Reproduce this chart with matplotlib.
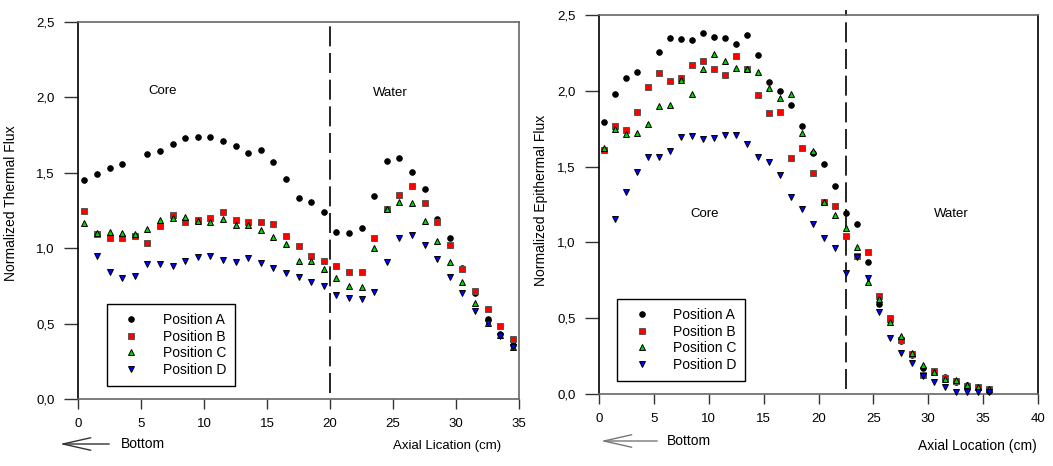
import numpy as np
import matplotlib
matplotlib.use("Agg")
import matplotlib.pyplot as plt
from matplotlib.ticker import FuncFormatter

plt.rcParams["font.family"] = ["Liberation Sans", "DejaVu Sans"]
plt.rcParams["font.size"] = 9.5

# ── Thermal flux (left panel), x = 0.5 .. 34.5 cm ───────────────────────
x_thermal = np.arange(0.5, 35.0, 1.0)
th_a = [1.450, 1.492, 1.534, 1.556, np.nan, 1.627, 1.645, 1.693, 1.731, 1.739,
        1.739, 1.711, 1.680, 1.633, 1.649, 1.574, 1.459, 1.336, 1.304, 1.240,
        1.105, 1.101, 1.136, 1.348, 1.578, 1.598, 1.507, 1.395, 1.192, 1.070,
        0.870, 0.700, 0.530, 0.430, 0.360]
th_b = [1.249, 1.094, 1.066, 1.070, 1.083, 1.032, 1.149, 1.220, 1.174, 1.185,
        1.198, 1.238, 1.189, 1.174, 1.176, 1.158, 1.083, 1.015, 0.946, 0.913,
        0.885, 0.842, 0.842, 1.070, 1.258, 1.355, 1.415, 1.298, 1.176, 1.019,
        0.862, 0.714, 0.595, 0.486, 0.398]
th_c = [1.167, 1.100, 1.105, 1.101, 1.094, 1.127, 1.185, 1.200, 1.207, 1.178,
        1.174, 1.196, 1.154, 1.152, 1.119, 1.074, 1.030, 0.913, 0.913, 0.864,
        0.804, 0.747, 0.743, 0.999, 1.258, 1.304, 1.302, 1.178, 1.048, 0.906,
        0.774, 0.635, 0.506, 0.422, 0.347]
th_d = [np.nan, 0.948, 0.844, 0.802, 0.818, 0.895, 0.895, 0.882, 0.917, 0.944,
        0.950, 0.920, 0.906, 0.935, 0.900, 0.867, 0.836, 0.811, 0.778, 0.751,
        0.689, 0.670, 0.663, 0.712, 0.906, 1.066, 1.086, 1.021, 0.930, 0.807,
        0.705, 0.586, 0.506, 0.418, 0.343]

# ── Epithermal flux (right panel), x = 0.5 .. 35.5 cm ───────────────────
x_epi = np.arange(0.5, 36.0, 1.0)
ep_a = [1.792, 1.979, 2.086, 2.122, np.nan, 2.254, 2.350, 2.342, 2.335, 2.383,
        2.353, 2.350, 2.311, 2.370, 2.236, 2.056, 1.997, 1.906, 1.766, 1.592,
        1.515, 1.372, 1.196, 1.119, 0.869, 0.594, 0.480, 0.352, 0.260, 0.170,
        0.154, 0.110, 0.080, 0.060, 0.040, 0.020]
ep_b = [1.607, 1.768, 1.743, 1.860, 2.023, 2.119, 2.062, 2.086, 2.168, 2.197,
        2.144, 2.106, 2.232, 2.144, 1.974, 1.856, 1.862, 1.559, 1.623, 1.456,
        1.265, 1.238, 1.042, 0.908, 0.939, 0.649, 0.499, 0.356, 0.266, 0.125,
        0.154, 0.108, 0.088, 0.053, 0.048, 0.031]
ep_c = [1.625, 1.750, 1.717, 1.724, 1.781, 1.900, 1.906, 2.073, 1.979, 2.144,
        2.241, 2.197, 2.150, 2.144, 2.124, 2.017, 1.953, 1.979, 1.724, 1.605,
        1.265, 1.183, 1.097, 0.968, 0.739, 0.629, 0.475, 0.383, 0.273, 0.191,
        0.143, 0.101, 0.090, 0.057, 0.048, 0.035]
ep_d = [np.nan, 1.152, 1.330, 1.462, 1.563, 1.563, 1.605, 1.695, 1.704, 1.680,
        1.689, 1.711, 1.711, 1.649, 1.563, 1.532, 1.443, 1.302, 1.223, 1.119,
        1.027, 0.965, 0.796, 0.905, 0.767, 0.543, 0.371, 0.268, 0.202, 0.120,
        0.077, 0.046, 0.015, 0.011, 0.010, 0.010]

labels = ["Position A", "Position B", "Position C", "Position D"]

# marker, face, edge, size
_STYLES = [
    ("o", "black", "black", 4.0),
    ("s", "#ff0000", "#555555", 4.2),
    ("^", "#00d000", "black", 5.0),
    ("v", "#0000ff", "black", 5.0),
]

W, H = 1053, 466
fig = plt.figure(figsize=(W / 100, H / 100), dpi=100)


def comma(v, pos):
    return f"{v:.1f}".replace(".", ",")


def setup(ax, xmax, xticks):
    ax.set_xlim(0, xmax)
    ax.set_ylim(0, 2.5)
    ax.set_xticks(xticks)
    ax.set_yticks(np.arange(0, 2.51, 0.5))
    ax.yaxis.set_major_formatter(FuncFormatter(comma))
    ax.tick_params(axis="x", direction="out", length=7, width=1, pad=7,
                   colors="#333333", labelcolor="black")
    ax.tick_params(axis="y", direction="out", length=10, width=1, pad=7,
                   colors="#333333", labelcolor="black")
    for side in ["top", "right", "bottom"]:
        ax.spines[side].set_color("#666666")
        ax.spines[side].set_linewidth(1.2)
    ax.spines["left"].set_color("black")
    ax.spines["left"].set_linewidth(1.2)


def draw(ax, x, series):
    for ys, (mk, fc, ec, ms), lab in zip(series, _STYLES, labels):
        ax.plot(x, ys, linestyle="none", marker=mk, markersize=ms,
                markerfacecolor=fc, markeredgecolor=ec,
                markeredgewidth=0.7, label=lab, clip_on=False, zorder=3)


def add_legend(ax, x0, y0):
    leg = ax.legend(loc="lower left", bbox_to_anchor=(x0, y0),
                    borderaxespad=0, fancybox=False, framealpha=1,
                    edgecolor="black", handlelength=2.2, handletextpad=1.15,
                    labelspacing=0.18, borderpad=0.65, fontsize=10)
    leg.get_frame().set_linewidth(1.0)
    return leg


# ── Left panel ────────────────────────────────────────────────────────────
ax1 = fig.add_axes([78 / W, 1 - 399 / H, (519 - 78) / W, (399 - 22) / H])
setup(ax1, 35, np.arange(0, 36, 5))
draw(ax1, x_thermal, [th_a, th_b, th_c, th_d])
ax1.plot([20, 20], [0.04, 2.5], color="black", lw=1.2, dashes=(12, 4))
ax1.text(6.75, 2.04, "Core", ha="center", va="center", fontsize=9.5)
ax1.text(24.8, 2.03, "Water", ha="center", va="center", fontsize=9.5)
ax1.set_ylabel("Normalized Thermal Flux", fontsize=10)
ax1.yaxis.set_label_coords(-0.136, 0.52)
add_legend(ax1, 0.066, 0.035)

# ── Right panel ───────────────────────────────────────────────────────────
ax2 = fig.add_axes([599 / W, 1 - 394 / H, (1038 - 599) / W, (394 - 15) / H])
setup(ax2, 40, np.arange(0, 41, 5))
ax2.spines["right"].set_color("black")
draw(ax2, x_epi, [ep_a, ep_b, ep_c, ep_d])
ax2.plot([22.5, 22.5], [0.03, 2.53], color="black", lw=1.2, dashes=(12, 4),
         clip_on=False)
ax2.text(9.6, 1.19, "Core", ha="center", va="center", fontsize=9.5)
ax2.text(32.1, 1.185, "Water", ha="center", va="center", fontsize=9.5)
ax2.set_ylabel("Normalized Epithermal Flux", fontsize=10)
ax2.yaxis.set_label_coords(-0.116, 0.51)
add_legend(ax2, 0.042, 0.035)

# ── axis titles and "Bottom" arrows ─────────────────────────────────────
fig.text(447 / W, 1 - 446 / H, "Axial Lication (cm)", ha="center",
         va="center", fontsize=9.5)
fig.text(977 / W, 1 - 446 / H, "Axial Location (cm)", ha="center",
         va="center", fontsize=10)

for (x_tip, x_tail, y, tx, col) in [(57, 112, 444, 121, "#333333"),
                                    (598, 660, 441, 667, "#777777")]:
    fig.patches.append(matplotlib.patches.FancyArrowPatch(
        (x_tail / W, 1 - y / H), (x_tip / W, 1 - y / H),
        transform=fig.transFigure,
        arrowstyle="->,head_length=2.0,head_width=0.45",
        mutation_scale=10, color=col, lw=1.0))
    fig.text(tx / W, 1 - y / H, "Bottom", ha="left", va="center", fontsize=10)

fig.savefig("out.png", dpi=100)
